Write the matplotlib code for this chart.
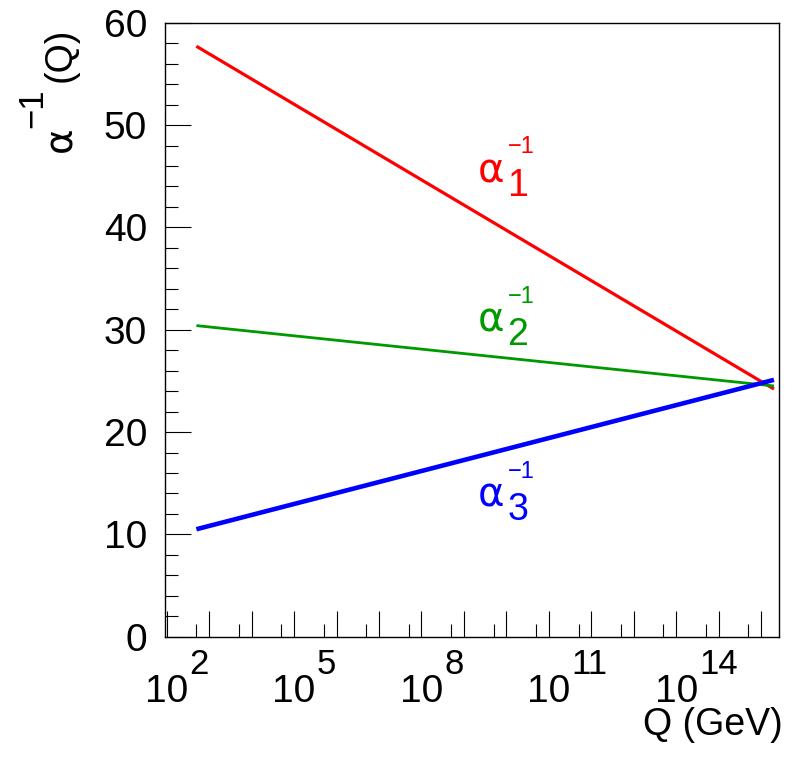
import numpy as np
import matplotlib
matplotlib.use("Agg")
import matplotlib.pyplot as plt
from matplotlib.ticker import FixedLocator, FuncFormatter, MultipleLocator

plt.rcParams['font.family'] = ['Liberation Sans', 'DejaVu Sans']

# inverse gauge couplings at the ends of the running
q_gev = [5.0e2, 2.0e16]
alpha1_inv = [57.7, 24.2]
alpha2_inv = [30.4, 24.5]
alpha3_inv = [10.5, 25.1]

curve_names = ["1", "2", "3"]
curve_colors = ["#ff0000", "#009900", "#0000ff"]
curve_widths = [2.3, 2.0, 3.3]

# where the alpha_i^-1 labels sit (Q, alpha^-1)
label_q = 2.1e9
label_y = [44.4, 29.8, 12.7]

x_range = [91.19, 2.63e16]
y_range = [0, 60]
label_decades = [2, 5, 8, 11, 14]

W, H = 795, 757
fig = plt.figure(figsize=(W / 100, H / 100), dpi=100)
ax = fig.add_axes([165 / W, 1 - 636.7 / H, (779 - 165) / W, (636.7 - 22.7) / H])

for vals, col, lw in zip([alpha1_inv, alpha2_inv, alpha3_inv], curve_colors, curve_widths):
    ax.plot(q_gev, vals, color=col, lw=lw, solid_capstyle='butt')

ax.set_xscale('log')
ax.set_xlim(x_range)
ax.set_ylim(y_range)

decades = np.arange(2, 17)
ax.xaxis.set_major_locator(FixedLocator(10.0 ** decades))
ax.xaxis.set_minor_locator(FixedLocator(5 * 10.0 ** decades))


def fmt_decade(v, pos):
    n = int(round(np.log10(v)))
    return '10' if n in label_decades else ''


ax.xaxis.set_major_formatter(FuncFormatter(fmt_decade))
ax.xaxis.set_minor_formatter(FuncFormatter(lambda v, pos: ''))
ax.yaxis.set_major_locator(MultipleLocator(10))
ax.yaxis.set_minor_locator(MultipleLocator(2))

tick_fs = 28
ax.tick_params(which='both', direction='in', top=False, right=False,
               width=0.8, color='black', labelsize=tick_fs)
ax.tick_params(which='major', length=18.7)
ax.tick_params(which='minor', length=9.4)
ax.tick_params(axis='y', pad=13)
ax.tick_params(axis='x', pad=27)
for sp in ax.spines.values():
    sp.set_linewidth(1.0)

# exponents of the x tick labels, ROOT style (large, raised)
for n in label_decades:
    ax.annotate(str(n), (10.0 ** n, 0), xycoords=('data', 'axes fraction'),
                xytext=(16.5, -26.8), textcoords='offset points',
                fontsize=25, ha='left', va='baseline')

# alpha_i^-1 labels: big subscript, small superscript
for name, col, y in zip(curve_names, curve_colors, label_y):
    ax.annotate('α', (label_q, y), xytext=(0, 0), textcoords='offset points',
                fontsize=29, family='DejaVu Sans', color=col, ha='left', va='baseline')
    ax.annotate(name, (label_q, y), xytext=(21.5, -9.5), textcoords='offset points',
                fontsize=27, color=col, ha='left', va='baseline')
    ax.annotate('\u22121', (label_q, y), xytext=(22, 20.8), textcoords='offset points',
                fontsize=17, color=col, ha='left', va='baseline')

ax.set_xlabel('Q (GeV)', loc='right', fontsize=27, va='baseline')
ax.xaxis.set_label_coords(1.006, -(735 - 636.7) / 614)

# y title built from pieces, rotated
ytitle = [('α', 71, 152, 28, 'DejaVu Sans'), ('\u22121', 42, 128, 25, 'Liberation Sans'),
          ('(Q)', 71, 82, 27, 'Liberation Sans')]
for txt, px, py, fs, fam in ytitle:
    fig.text(px / W, 1 - py / H, txt, rotation=90, rotation_mode='anchor',
             ha='left', va='baseline', fontsize=fs, family=fam)

fig.savefig('out.png', dpi=100)
